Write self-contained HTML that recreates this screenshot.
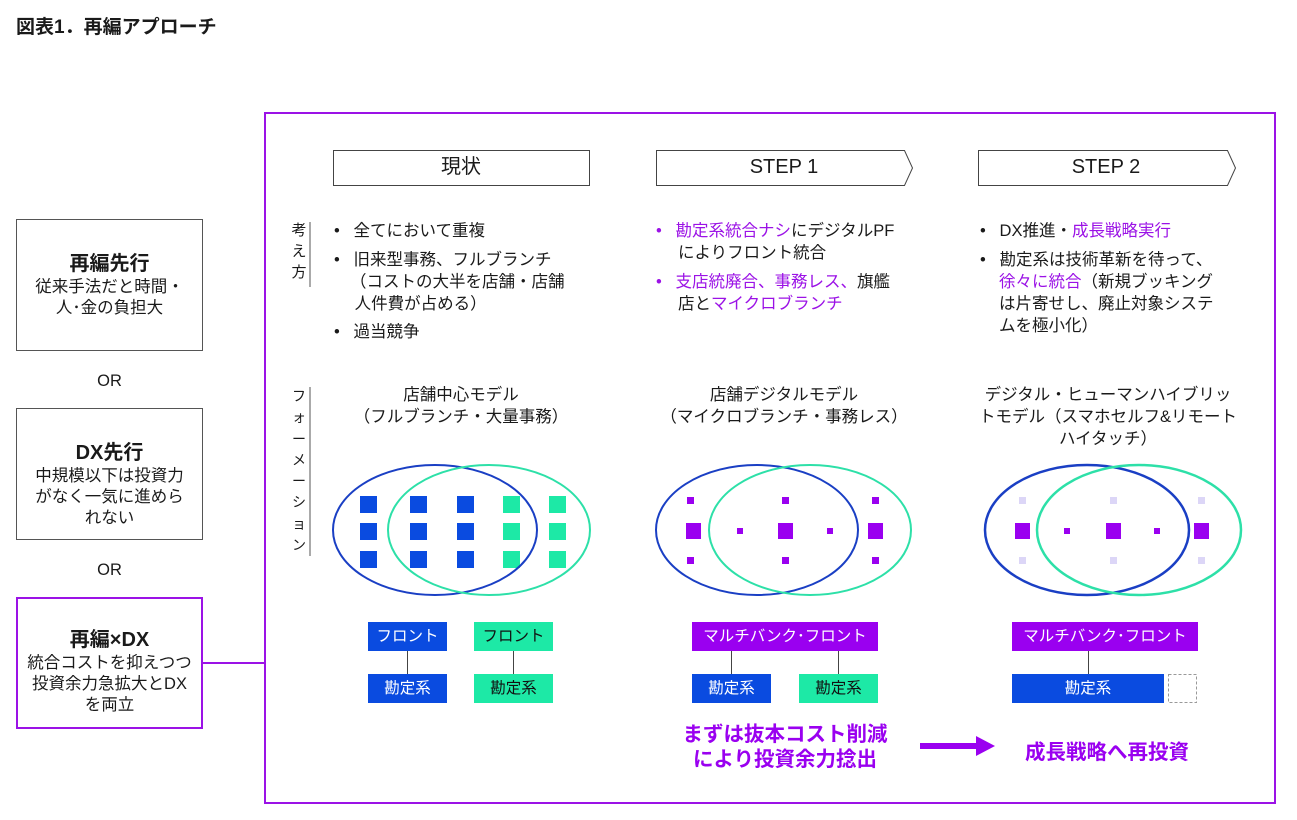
<!DOCTYPE html>
<html><head><meta charset="utf-8"><style>
*{margin:0;padding:0;box-sizing:border-box}
body{width:1297px;height:820px;background:#fff;position:relative;overflow:hidden;font-family:"Liberation Sans","Noto Sans CJK JP",sans-serif;color:#1a1a1a}
.a{position:absolute;white-space:nowrap}
.t{font-size:16.5px;line-height:22px}
.c{text-align:center}
.p{color:#9b12e6}
.box{position:absolute;border:1.5px solid #555;text-align:center;font-size:16.5px;line-height:21px}
.lb{position:absolute;color:#fff;font-size:15.5px;text-align:center;line-height:29px;height:29px}
.hd{position:absolute;text-align:center;font-size:20px;line-height:35px;top:150px;height:35px}
</style></head><body>
<svg class="a" style="left:0;top:0" width="1297" height="820">
<rect x="265" y="113" width="1010" height="690" fill="none" stroke="#9b12e6" stroke-width="2"/>
<line x1="203" y1="663" x2="265" y2="663" stroke="#9b12e6" stroke-width="2"/>
<rect x="333.5" y="150.5" width="256" height="35" fill="none" stroke="#444" stroke-width="1"/>
<path d="M656.5 150.5H904.5L912.5 168L904.5 185.5H656.5Z" fill="none" stroke="#444"/>
<path d="M978.5 150.5H1227.5L1235.5 168L1227.5 185.5H978.5Z" fill="none" stroke="#444"/>
<line x1="310" y1="222" x2="310" y2="287" stroke="#555"/>
<line x1="310" y1="387" x2="310" y2="556" stroke="#555"/>
<g fill="#0a4be0">
<rect x="360" y="496" width="17" height="17"/><rect x="360" y="523" width="17" height="17"/><rect x="360" y="551" width="17" height="17"/>
<rect x="410" y="496" width="17" height="17"/><rect x="410" y="523" width="17" height="17"/><rect x="410" y="551" width="17" height="17"/>
<rect x="457" y="496" width="17" height="17"/><rect x="457" y="523" width="17" height="17"/><rect x="457" y="551" width="17" height="17"/>
</g>
<g fill="#1de9a6">
<rect x="503" y="496" width="17" height="17"/><rect x="503" y="523" width="17" height="17"/><rect x="503" y="551" width="17" height="17"/>
<rect x="549" y="496" width="17" height="17"/><rect x="549" y="523" width="17" height="17"/><rect x="549" y="551" width="17" height="17"/>
</g>
<g fill="none" stroke-width="2">
<ellipse cx="435" cy="530" rx="102" ry="65" stroke="#1a3fc4"/>
<ellipse cx="489" cy="530" rx="101" ry="65" stroke="#2de0a8"/>
<ellipse cx="757" cy="530" rx="101" ry="65" stroke="#1a3fc4"/>
<ellipse cx="810" cy="530" rx="101" ry="65" stroke="#2de0a8"/>
<ellipse cx="1087" cy="530" rx="102" ry="65" stroke="#1a3fc4" stroke-width="2.5"/>
<ellipse cx="1139" cy="530" rx="102" ry="65" stroke="#2de0a8" stroke-width="2.5"/>
</g>
<g fill="#9a00f0">
<rect x="687" y="497" width="7" height="7"/><rect x="782" y="497" width="7" height="7"/><rect x="872" y="497" width="7" height="7"/>
<rect x="687" y="557" width="7" height="7"/><rect x="782" y="557" width="7" height="7"/><rect x="872" y="557" width="7" height="7"/>
<rect x="686" y="523" width="15" height="16"/><rect x="778" y="523" width="15" height="16"/><rect x="868" y="523" width="15" height="16"/>
<rect x="737" y="528" width="6" height="6"/><rect x="827" y="528" width="6" height="6"/>
<rect x="1015" y="523" width="15" height="16"/><rect x="1106" y="523" width="15" height="16"/><rect x="1194" y="523" width="15" height="16"/>
<rect x="1064" y="528" width="6" height="6"/><rect x="1154" y="528" width="6" height="6"/>
</g>
<g fill="#dcd6f7">
<rect x="1019" y="497" width="7" height="7"/><rect x="1110" y="497" width="7" height="7"/><rect x="1198" y="497" width="7" height="7"/>
<rect x="1019" y="557" width="7" height="7"/><rect x="1110" y="557" width="7" height="7"/><rect x="1198" y="557" width="7" height="7"/>
</g>
<g stroke="#444">
<line x1="407.5" y1="651" x2="407.5" y2="674"/><line x1="513.5" y1="651" x2="513.5" y2="674"/>
<line x1="731.5" y1="651" x2="731.5" y2="674"/><line x1="838.5" y1="651" x2="838.5" y2="674"/>
<line x1="1088.5" y1="651" x2="1088.5" y2="674"/>
</g>
<rect x="1168.5" y="674.5" width="28" height="28" fill="none" stroke="#999" stroke-dasharray="3,2"/>
<rect x="920" y="743" width="58" height="6" fill="#9a00f0"/>
<path d="M976 736L995 746L976 756Z" fill="#9a00f0"/>
</svg>

<div class="a" style="left:16px;top:12px;font-size:19px;font-weight:bold">図表1．再編アプローチ</div>

<div class="box" style="left:16px;top:219px;width:187px;height:132px;padding-top:32px"><b style="font-size:20px;line-height:25px">再編先行</b><br>従来手法だと時間・<br>人･金の負担大</div>
<div class="a c t" style="left:16px;width:187px;top:370px">OR</div>
<div class="box" style="left:16px;top:408px;width:187px;height:132px;padding-top:32px"><b style="font-size:20px;line-height:25px">DX先行</b><br>中規模以下は投資力<br>がなく一気に進めら<br>れない</div>
<div class="a c t" style="left:16px;width:187px;top:559px">OR</div>
<div class="box" style="left:16px;top:597px;width:187px;height:132px;padding-top:29px;border:2px solid #9b12e6"><b style="font-size:20px;line-height:25px">再編×DX</b><br>統合コストを抑えつつ<br>投資余力急拡大とDX<br>を両立</div>

<div class="hd" style="left:333px;width:256px">現状</div>
<div class="hd" style="left:656px;width:256px">STEP 1</div>
<div class="hd" style="left:978px;width:256px">STEP 2</div>

<div class="a" style="left:290px;top:220px;width:18px;font-size:15px;line-height:21px;text-align:center">考<br>え<br>方</div>
<div class="a" style="left:290px;top:386px;width:18px;font-size:14px;line-height:21.3px;text-align:center">フ<br>ォ<br>ー<br>メ<br>ー<br>シ<br>ョ<br>ン</div>

<div class="a t" style="left:334px;top:220px">•&nbsp;&nbsp;&nbsp;全てにおいて重複</div>
<div class="a t" style="left:334px;top:249px">•&nbsp;&nbsp;&nbsp;旧来型事務、フルブランチ</div>
<div class="a t" style="left:350px;top:271px">（コストの大半を店舗・店舗<br>&nbsp;人件費が占める）</div>
<div class="a t" style="left:334px;top:321px">•&nbsp;&nbsp;&nbsp;過当競争</div>

<div class="a t" style="left:656px;top:220px"><span class="p">•&nbsp;&nbsp;&nbsp;勘定系統合ナシ</span>にデジタルPF</div>
<div class="a t" style="left:678px;top:242px">によりフロント統合</div>
<div class="a t" style="left:656px;top:271px"><span class="p">•&nbsp;&nbsp;&nbsp;支店統廃合、事務レス、</span>旗艦</div>
<div class="a t" style="left:678px;top:293px">店と<span class="p">マイクロブランチ</span></div>

<div class="a t" style="left:980px;top:220px">•&nbsp;&nbsp;&nbsp;DX推進・<span class="p">成長戦略実行</span></div>
<div class="a t" style="left:980px;top:249px">•&nbsp;&nbsp;&nbsp;勘定系は技術革新を待って、</div>
<div class="a t" style="left:999px;top:271px"><span class="p">徐々に統合</span>（新規ブッキング<br>は片寄せし、廃止対象システ<br>ムを極小化）</div>

<div class="a c t" style="left:333px;width:256px;top:384px">店舗中心モデル<br>（フルブランチ・大量事務）</div>
<div class="a c t" style="left:656px;width:256px;top:384px">店舗デジタルモデル<br>（マイクロブランチ・事務レス）</div>
<div class="a c t" style="left:976px;width:264px;top:384px">デジタル・ヒューマンハイブリッ<br>トモデル（スマホセルフ&amp;リモート<br>ハイタッチ）</div>

<div class="lb" style="left:368px;top:622px;width:79px;background:#0a4be0">フロント</div>
<div class="lb" style="left:474px;top:622px;width:79px;background:#1de9a6;color:#111">フロント</div>
<div class="lb" style="left:368px;top:674px;width:79px;background:#0a4be0">勘定系</div>
<div class="lb" style="left:474px;top:674px;width:79px;background:#1de9a6;color:#111">勘定系</div>

<div class="lb" style="left:692px;top:622px;width:186px;background:#9a00f0">マルチバンク･フロント</div>
<div class="lb" style="left:692px;top:674px;width:79px;background:#0a4be0">勘定系</div>
<div class="lb" style="left:799px;top:674px;width:79px;background:#1de9a6;color:#111">勘定系</div>

<div class="lb" style="left:1012px;top:622px;width:186px;background:#9a00f0">マルチバンク･フロント</div>
<div class="lb" style="left:1012px;top:674px;width:152px;background:#0a4be0">勘定系</div>

<div class="a c p" style="left:660px;width:250px;top:722px;font-size:20.5px;line-height:25px;font-weight:bold;color:#9a00f0">まずは抜本コスト削減<br>により投資余力捻出</div>
<div class="a c p" style="left:1007px;width:200px;top:735px;font-size:20.5px;font-weight:bold;color:#9a00f0">成長戦略へ再投資</div>
</body></html>
